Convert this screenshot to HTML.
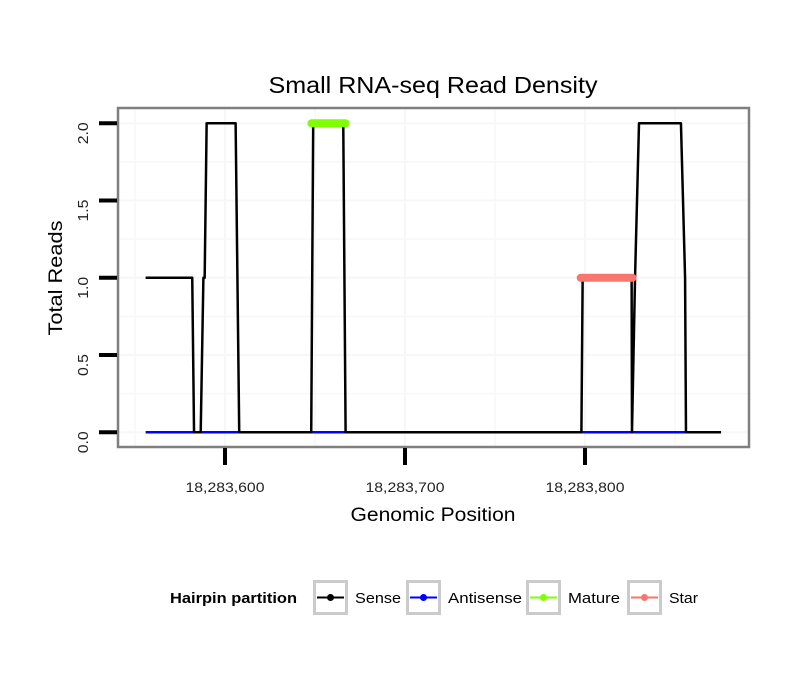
<!DOCTYPE html>
<html><head><meta charset="utf-8"><style>body{margin:0;background:#fff}svg{display:block;font-family:"Liberation Sans",sans-serif}</style></head>
<body>
<svg id="c" width="810" height="690"></svg>
<script>
const senseX=[18283555.9,18283581.8,18283582.8,18283586.5,18283588,18283588.7,18283589.8,18283605.9,18283607.9,18283647.9,18283649,18283665.7,18283667,18283798,18283798.7,18283825.9,18283826.1,18283827.8,18283830,18283853.3,18283855.6,18283856.1,18283875.6];
const senseY=[1,1,0,0,1,1,2,2,0,0,2,2,0,0,1,1,0,1,2,2,1,0,0];
const antisenseX=[18283555.9,18283856.1];
const antisenseY=[0,0];
const matureX=[18283648,18283667];
const matureY=[2,2];
const starX=[18283797.6,18283826.4];
const starY=[1,1];
const xTicks=[18283600,18283700,18283800];
const xTickLabels=["18,283,600","18,283,700","18,283,800"];
const yTicks=[0,0.5,1,1.5,2];
const yTickLabels=["0.0","0.5","1.0","1.5","2.0"];

const NS="http://www.w3.org/2000/svg",svg=document.getElementById('c');
function tx(v){return 225+(v-18283600)*1.8;}
function ty(v){return 432.3-v*154.5;}
function mk(t,a,p){const e=document.createElementNS(NS,t);for(const k in a)e.setAttribute(k,a[k]);(p||svg).appendChild(e);return e;}
const PL=118,PR=749,PT=108,PB=447;
let g=mk('rect',{x:PL,y:PT,width:PR-PL,height:PB-PT,fill:'#fff'});


for(let v=0;v<=2.0001;v+=0.25){let l=mk('line',{x1:PL,x2:PR,y1:ty(v),y2:ty(v),stroke:'#f7f7f7','stroke-width':Math.abs(v*2-Math.round(v*2))<1e-6?2:1.5});

}
for(let v=18283550;v<=18283900;v+=50){const x=tx(v);if(x<PL||x>PR)continue;let l=mk('line',{x1:x,x2:x,y1:PT,y2:PB,stroke:'#f7f7f7','stroke-width':v%100===0?2:1.5});

}
function path(xs,ys,col,w,cap,name){let d=xs.map((x,i)=>(i?'L':'M')+tx(x)+','+ty(ys[i])).join('');let p=mk('path',{d:d,fill:'none',stroke:col,'stroke-width':w,'stroke-linecap':cap,'stroke-linejoin':'round'});

}
path(antisenseX,antisenseY,'#0000ff',2.5,'butt','antisense-line');
path(senseX,senseY,'#000',2.5,'butt','sense-line');
path(matureX,matureY,'#7fff00',8,'round','mature-line');
path(starX,starY,'#f8766d',8,'round','star-line');
let b=mk('rect',{x:PL,y:PT,width:PR-PL,height:PB-PT,fill:'none',stroke:'#7f7f7f','stroke-width':2.5});


yTicks.forEach((v,i)=>{let l=mk('line',{x1:99,x2:117,y1:ty(v),y2:ty(v),stroke:'#000','stroke-width':4});


let t=mk('text',{x:0,y:0,transform:`translate(88,${ty(v)-1}) rotate(-90)`,'text-anchor':'end','font-size':15,fill:'#222',textLength:22,lengthAdjust:'spacingAndGlyphs'});t.textContent=yTickLabels[i];

});
xTicks.forEach((v,i)=>{let l=mk('line',{x1:tx(v),x2:tx(v),y1:448,y2:465,stroke:'#000','stroke-width':4});


let t=mk('text',{x:tx(v),y:492,'text-anchor':'middle','font-size':14,fill:'#222',textLength:79,lengthAdjust:'spacingAndGlyphs'});t.textContent=xTickLabels[i];

});
let t=mk('text',{x:433,y:93,'text-anchor':'middle','font-size':23,fill:'#000',textLength:329,lengthAdjust:'spacingAndGlyphs'});t.textContent='Small RNA-seq Read Density';


t=mk('text',{x:433,y:521,'text-anchor':'middle','font-size':19,fill:'#000',textLength:165,lengthAdjust:'spacingAndGlyphs'});t.textContent='Genomic Position';


t=mk('text',{x:0,y:0,transform:'translate(62,278) rotate(-90)','text-anchor':'middle','font-size':19,fill:'#000',textLength:115,lengthAdjust:'spacingAndGlyphs'});t.textContent='Total Reads';


t=mk('text',{x:170,y:603,'font-size':15,'font-weight':'bold',fill:'#000',textLength:127,lengthAdjust:'spacingAndGlyphs'});t.textContent='Hairpin partition';


const leg=[[313,'#000','Sense',46],[406,'#0000ff','Antisense',74],[526,'#7fff00','Mature',52],[627,'#f8766d','Star',29]];
leg.forEach(([x,c,n,w])=>{let gg=mk('g',{});


mk('rect',{x:x+1.5,y:581.5,width:32,height:32,fill:'#fff',stroke:'#cbcbcb','stroke-width':3},gg);
mk('line',{x1:x+4,x2:x+31,y1:597.5,y2:597.5,stroke:c,'stroke-width':2},gg);
mk('circle',{cx:x+17.5,cy:597.5,r:3.5,fill:c},gg);
let tt=mk('text',{x:x+42,y:603,'font-size':15,fill:'#000',textLength:w,lengthAdjust:'spacingAndGlyphs'},gg);tt.textContent=n;});
</script>
</body></html>
